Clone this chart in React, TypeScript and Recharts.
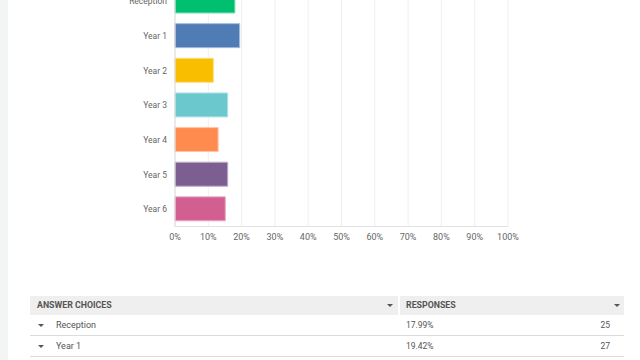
import { Bar, BarChart, CartesianGrid, Cell, XAxis, YAxis } from 'recharts';

const choices = ['Reception', 'Year 1', 'Year 2', 'Year 3', 'Year 4', 'Year 5', 'Year 6'];
const percents = [17.99, 19.42, 11.51, 15.83, 12.95, 15.83, 15.11];
const counts = [25, 27, 16, 22, 18, 22, 21];
const xTicks = [0, 10, 20, 30, 40, 50, 60, 70, 80, 90, 100];

const colors = ['#00bf6f', '#507cb6', '#f9be00', '#6bc8cd', '#ff8b4f', '#7d5e90', '#d25f90'];
const borders = ['#7fdfb7', '#a7bdda', '#fcde7f', '#b5e3e6', '#ffc5a7', '#beaec7', '#e8afc7'];

const data = choices.map((name, i) => ({ name, value: percents[i] }));

const font = 'Roboto, "Noto Sans", Arial, sans-serif';

// only the first rows of the table fit in the frame
const visibleRows = 2;

function Caret({ x, y }: { x: number; y: number }) {
  return (
    <div
      style={{
        position: 'absolute',
        left: x,
        top: y,
        width: 0,
        height: 0,
        borderLeft: '3px solid transparent',
        borderRight: '3px solid transparent',
        borderTop: '3px solid #555',
      }}
    />
  );
}

export default function App() {
  const rowTop = 315;
  const rowH = 20.5;
  return (
    <div
      style={{
        position: 'absolute',
        left: 0,
        top: 0,
        width: 640,
        height: 360,
        overflow: 'hidden',
        background: '#fff',
        fontFamily: font,
      }}
    >
      <div style={{ position: 'absolute', left: 0, top: 0, width: 8, height: 360, background: '#f3f4f4' }} />

      <div style={{ position: 'absolute', left: 0, top: -16.5 }}>
        <BarChart
          width={640}
          height={272.5}
          data={data}
          layout="vertical"
          margin={{ top: 0, right: 132, left: 0, bottom: 0 }}
        >
          <CartesianGrid horizontal={false} stroke="#efefef" />
          <XAxis
            type="number"
            domain={[0, 100]}
            ticks={xTicks}
            tickFormatter={(v) => `${v}%`}
            axisLine={{ stroke: '#e2e2e2' }}
            tickLine={false}
            height={30}
            tick={{ fontSize: 9, fill: '#666', fontFamily: font }}
            tickMargin={1}
            interval={0}
          />
          <YAxis
            type="category"
            dataKey="name"
            width={175}
            axisLine={{ stroke: '#dcdcdc' }}
            tickLine={false}
            tick={{ fontSize: 8.5, fill: '#666', fontFamily: font }}
          />
          <Bar dataKey="value" barSize={24} isAnimationActive={false}>
            {data.map((_, idx) => (
              <Cell key={idx} fill={colors[idx]} stroke={borders[idx]} strokeWidth={1} />
            ))}
          </Bar>
        </BarChart>
      </div>

      {/* header */}
      <div style={{ position: 'absolute', left: 30, top: 296, width: 368, height: 19, background: '#efefef' }} />
      <div style={{ position: 'absolute', left: 400, top: 296, width: 224, height: 19, background: '#efefef' }} />
      <div style={{ position: 'absolute', left: 37, top: 296, lineHeight: '19px', fontSize: 8.8, fontWeight: 700, color: '#555' }}>
        ANSWER CHOICES
      </div>
      <div style={{ position: 'absolute', left: 406, top: 296, lineHeight: '19px', fontSize: 8.8, fontWeight: 700, color: '#555' }}>
        RESPONSES
      </div>
      <Caret x={387} y={304} />
      <Caret x={614} y={304} />

      {choices.slice(0, visibleRows).map((c, i) => (
        <div key={c}>
          <Caret x={38} y={rowTop + i * rowH + 9} />
          <div
            style={{
              position: 'absolute',
              left: 56,
              top: rowTop + i * rowH,
              lineHeight: '20px',
              fontSize: 9,
              color: '#555',
            }}
          >
            {c}
          </div>
          <div
            style={{
              position: 'absolute',
              left: 406,
              top: rowTop + i * rowH,
              lineHeight: '20px',
              fontSize: 8.5,
              color: '#555',
            }}
          >
            {percents[i].toFixed(2)}%
          </div>
          <div
            style={{
              position: 'absolute',
              right: 640 - 610,
              top: rowTop + i * rowH,
              lineHeight: '20px',
              fontSize: 8.5,
              color: '#555',
              textAlign: 'right',
            }}
          >
            {counts[i]}
          </div>
          <div
            style={{
              position: 'absolute',
              left: 30,
              top: rowTop + i * rowH + 20,
              width: 594,
              height: 1,
              background: '#dcdcdc',
            }}
          />
        </div>
      ))}
    </div>
  );
}
